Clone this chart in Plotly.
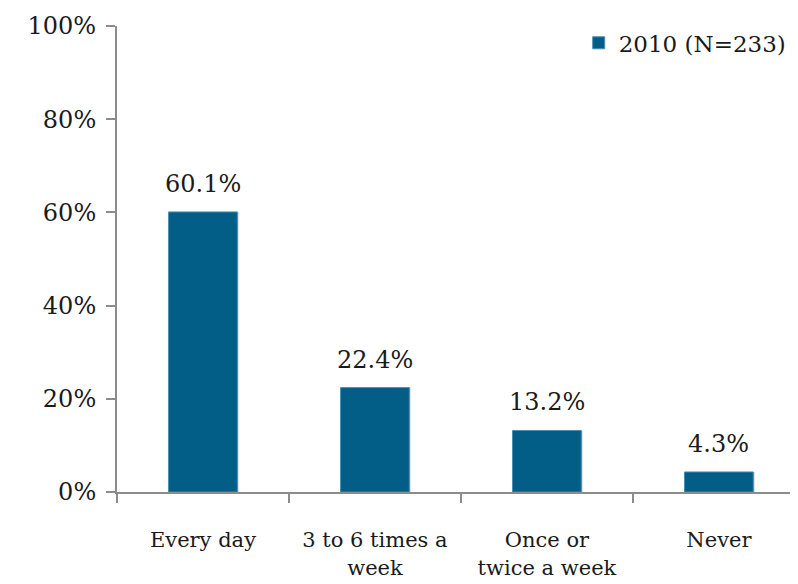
import plotly.graph_objects as go

categories = ["Every day", "3 to 6 times a<br>week", "Once or<br>twice a week", "Never"]
values = [60.1, 22.4, 13.2, 4.3]
labels = ["60.1%", "22.4%", "13.2%", "4.3%"]
series_name = "2010 (N=233)"
y_ticks = [0, 20, 40, 60, 80, 100]
y_tick_text = ["0%", "20%", "40%", "60%", "80%", "100%"]

FONT = "DejaVu Serif"
BAR = "#035E87"
AX = "#8C8C8C"
TXT = "#1a1a1a"
FS = 24

fig = go.Figure()
# subtle shadow
fig.add_trace(go.Bar(
    x=categories, y=values, width=0.4, offset=-0.19,
    marker=dict(color="rgba(0,0,0,0.12)", line=dict(width=0)),
    showlegend=False, hoverinfo="skip"))
fig.add_trace(go.Bar(
    x=categories, y=values, name=series_name, width=0.4, offset=-0.2,
    marker=dict(color=BAR, line=dict(color="#4A8DB0", width=1)),
    hoverinfo="y"))

for c, v, t in zip(categories, values, labels):
    fig.add_annotation(x=c, y=v, text=t, showarrow=False, yanchor="bottom",
                       yshift=12, font=dict(family=FONT, size=FS, color=TXT))

fig.update_layout(
    width=790, height=576,
    margin=dict(l=109, r=0, t=18, b=92, autoexpand=False),
    plot_bgcolor="white", paper_bgcolor="white",
    barmode="overlay",
    font=dict(family=FONT, size=FS, color=TXT),
    showlegend=True,
    legend=dict(x=0.678, y=1.01, xanchor="left", yanchor="top",
                font=dict(family=FONT, size=23, color=TXT), bgcolor="rgba(0,0,0,0)",
                itemwidth=30, traceorder="normal"),
    xaxis=dict(range=[-0.5, 3.46], showline=True, linecolor=AX, linewidth=2,
               ticks="outside", tickson="boundaries", ticklen=9, tickcolor=AX,
               tickwidth=2, showgrid=False, automargin=False, ticklabelstandoff=28,
               tickangle=0,
               tickfont=dict(family=FONT, size=21, color=TXT)),
    yaxis=dict(range=[0, 100], tickvals=y_ticks, ticktext=y_tick_text,
               showline=True, linecolor=AX, linewidth=2, ticks="outside",
               ticklen=9, tickcolor=AX, tickwidth=2, showgrid=False,
               zeroline=False, automargin=False, ticklabelstandoff=5,
               tickfont=dict(family=FONT, size=FS, color=TXT)),
)
fig.write_html("out.html")
